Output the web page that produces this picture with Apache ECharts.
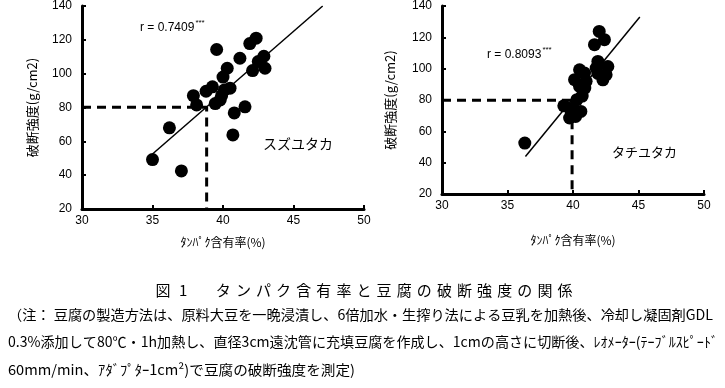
<!DOCTYPE html>
<html>
<head>
<meta charset="utf-8">
<script src="https://cdn.jsdelivr.net/npm/echarts@6/dist/echarts.min.js"></script>
<style>
html,body{margin:0;padding:0;background:#fff;}
#chart{width:725px;height:388px;}
</style>
</head>
<body>
<div id="chart"></div>
<script>
// ---- data ----
var xTicks = [30, 35, 40, 45, 50];
var yTicks = [20, 40, 60, 80, 100, 120, 140];

var leftX = [35.0, 37.05, 36.2, 37.9, 38.13, 38.8, 39.25, 39.45, 39.55, 39.8, 40.0, 40.3, 40.1, 40.5, 40.7, 40.8, 41.2, 41.56, 41.9, 42.35, 42.1, 42.5, 42.9, 42.98, 39.9];
var leftY = [49.2, 42.5, 68.0, 87.0, 81.5, 89.6, 92.2, 82.3, 114.3, 84.5, 98.0, 103.2, 90.4, 91.4, 63.8, 76.8, 109.1, 80.4, 117.8, 121.0, 101.8, 107.2, 110.3, 103.2, 87.0];
var leftFitX = [35.0, 47.07];
var leftFitY = [52.5, 140.0];
var leftCutX = [30, 38.84, 38.84];
var leftCutY = [80.2, 80.2, 20];

var rightX = [36.32, 39.3, 39.87, 39.74, 40.2, 39.99, 40.3, 40.6, 40.5, 40.9, 40.12, 40.5, 40.88, 41.0, 41.77, 41.64, 42.0, 42.4, 41.9, 42.53, 42.28, 42.66, 41.9, 40.7];
var rightY = [52.5, 76.3, 71.7, 68.5, 69.5, 74.9, 80.2, 72.7, 88.7, 87.6, 93.0, 99.3, 97.2, 91.9, 100.4, 115.3, 123.8, 118.5, 104.6, 96.1, 92.9, 101.4, 97.0, 82.5];
var rightFitX = [36.37, 45.1];
var rightFitY = [44.0, 133.0];
var rightCutX = [30, 39.93, 39.93];
var rightCutY = [79.8, 79.8, 20];

var leftR = 'r = 0.7409';
var rightR = 'r = 0.8093';
var stars = '***';
var leftVariety = 'スズユタカ';
var rightVariety = 'タチユタカ';
var xName = 'ﾀﾝﾊﾟｸ含有率(%)';
var yName = '破断強度(g/cm2)';
var figTitle = '図1　タンパク含有率と豆腐の破断強度の関係';
var captionLines = [
  '（注： 豆腐の製造方法は、原料大豆を一晩浸漬し、6倍加水・生搾り法による豆乳を加熱後、冷却し凝固剤GDL',
  '0.3%添加して80℃・1h加熱し、直径3cm遠沈管に充填豆腐を作成し、1cmの高さに切断後、ﾚｵﾒｰﾀｰ(ﾃｰﾌﾞﾙｽﾋﾟｰﾄﾞ',
  '60mm/min、ｱﾀﾞﾌﾟﾀｰ1cm²)で豆腐の破断強度を測定)'
];

function zip(a, b) { return a.map(function (v, i) { return [v, b[i]]; }); }

var JP = '"Noto Sans CJK JP", sans-serif';
var NUM = '"Liberation Sans", Arial, sans-serif';

function xAxis(gi, gap) {
  return {
    type: 'value', gridIndex: gi, min: xTicks[0], max: xTicks[xTicks.length - 1], interval: 5,
    name: xName, nameLocation: 'middle', nameGap: gap,
    nameTextStyle: { fontFamily: JP, fontSize: 12, color: '#000' },
    axisLine: { show: true, onZero: false, lineStyle: { color: '#000', width: 3 } },
    axisTick: { show: true, inside: true, length: 4, lineStyle: { color: '#000', width: 2 } },
    axisLabel: { fontFamily: NUM, fontSize: 12, color: '#000', margin: 6 },
    splitLine: { show: false }
  };
}
function yAxis(gi, gap) {
  return {
    type: 'value', gridIndex: gi, min: yTicks[0], max: yTicks[yTicks.length - 1], interval: 20,
    name: yName, nameLocation: 'middle', nameGap: gap, nameRotate: 90,
    nameTextStyle: { fontFamily: JP, fontSize: 13, color: '#000' },
    axisLine: { show: true, onZero: false, lineStyle: { color: '#000', width: 3 } },
    axisTick: { show: true, inside: true, length: 4, lineStyle: { color: '#000', width: 2 } },
    axisLabel: { fontFamily: NUM, fontSize: 12, color: '#000', margin: 10 },
    splitLine: { show: false }
  };
}
function scatter(gi, data) {
  return { type: 'scatter', xAxisIndex: gi, yAxisIndex: gi, data: data, symbolSize: 13,
    itemStyle: { color: '#000', opacity: 1 }, z: 3 };
}
function line(gi, data, dashed) {
  return { type: 'line', xAxisIndex: gi, yAxisIndex: gi, data: data, showSymbol: false, symbol: 'none',
    lineStyle: dashed ? { color: '#000', width: 3, type: [9, 6] } : { color: '#000', width: 1.5 },
    z: dashed ? 2 : 4 };
}

// measure text width for caption fitting
var mctx = document.createElement('canvas').getContext('2d');
function measure(txt, font) { mctx.font = font; return mctx.measureText(txt).width; }

var graphics = [];
function txt(x, y, s, font) {
  return { type: 'text', x: x, y: y, style: { text: s, font: font, fill: '#000', verticalAlign: 'middle' } };
}
var rFont = '12px ' + NUM;
graphics.push(txt(140, 28, leftR, rFont));
graphics.push(txt(140 + measure(leftR, rFont) + 1, 23, stars, '8px ' + NUM));
graphics.push(txt(487, 55, rightR, rFont));
graphics.push(txt(487 + measure(rightR, rFont) + 1, 50, stars, '8px ' + NUM));
graphics.push(txt(263, 144, leftVariety, '14px ' + JP));
graphics.push(txt(612, 152, rightVariety, '13px ' + JP));

// figure title, characters spaced
var tchars = Array.from(figTitle);
tchars.forEach(function (c, i) {
  graphics.push({ type: 'text', x: 163 + i * 20.1, y: 290,
    style: { text: c, font: '15px ' + JP, fill: '#000', align: 'center', verticalAlign: 'middle' } });
});
// caption lines fitted to their widths
var capY = [315, 342, 370];
var capW = [705, 710, 347];
var capFont = '14px ' + JP;
captionLines.forEach(function (s, i) {
  var w = measure(s, capFont);
  graphics.push({ type: 'text', x: 8, y: capY[i], scaleX: capW[i] / w,
    style: { text: s, font: capFont, fill: '#000', verticalAlign: 'middle' } });
});

var chart = echarts.init(document.getElementById('chart'), null, { renderer: 'canvas' });
chart.setOption({
  animation: false,
  backgroundColor: '#fff',
  grid: [
    { left: 82, top: 6, width: 282, height: 203 },
    { left: 442, top: 6, width: 262, height: 188 }
  ],
  xAxis: [xAxis(0, 27), xAxis(1, 40)],
  yAxis: [yAxis(0, 43), yAxis(1, 45)],
  series: [
    line(0, zip(leftCutX, leftCutY), true),
    line(0, zip(leftFitX, leftFitY), false),
    scatter(0, zip(leftX, leftY)),
    line(1, zip(rightCutX, rightCutY), true),
    line(1, zip(rightFitX, rightFitY), false),
    scatter(1, zip(rightX, rightY))
  ],
  graphic: graphics
});
</script>
</body>
</html>
